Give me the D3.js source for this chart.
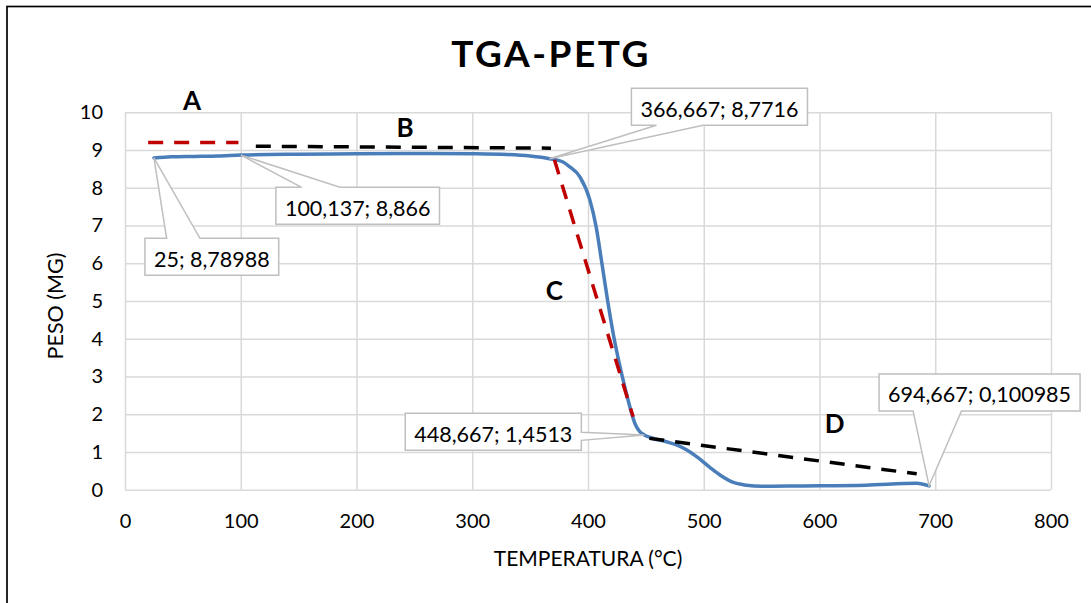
<!DOCTYPE html>
<html>
<head>
<meta charset="utf-8">
<script src="https://cdn.jsdelivr.net/npm/d3@7"></script>
<style>
  body { margin: 0; background: #fff; }
  svg { display: block; font-family: Lato, "Open Sans", sans-serif; }
</style>
</head>
<body>
<div class="graphContainer"></div>
<script>
// TGA curve (temperature in C, weight in mg)
const temps = [25, 40, 60, 80, 100.137, 150, 200, 250, 300, 330, 350, 366.667, 378, 384, 393, 401.6, 407, 412, 417, 422, 427, 432, 437, 441, 444.7, 448.667, 455, 467.6, 478, 485, 495, 505, 515, 525, 537, 550, 583, 640, 684, 694.667];
const weights = [8.79, 8.82, 8.83, 8.84, 8.866, 8.89, 8.90, 8.91, 8.90, 8.88, 8.84, 8.7716, 8.69, 8.56, 8.29, 7.68, 6.97, 6.0, 5.0, 4.1, 3.35, 2.7, 2.1, 1.72, 1.54, 1.4513, 1.37, 1.27, 1.17, 1.06, 0.85, 0.6, 0.37, 0.2, 0.12, 0.09, 0.10, 0.12, 0.17, 0.100985];

// tangent segments A..D
const segNames = ["A", "B", "C", "D"];
const segX = [[20, 98], [113, 368], [371, 439], [453, 684]];
const segY = [[9.2, 9.2], [9.1, 9.05], [8.74, 1.93], [1.36, 0.42]];
const segColors = ["#c00000", "#000000", "#c00000", "#000000"];
// where the letters sit (data coords)
const letterX = [58, 242, 371, 613];
const letterY = [10.06, 9.34, 5.03, 1.50];

// callout points
const calloutX = [25, 100.137, 366.667, 448.667, 694.667];
const calloutY = [8.78988, 8.866, 8.7716, 1.4513, 0.100985];

// ticks
const xTicks = [0, 100, 200, 300, 400, 500, 600, 700, 800];
const yTicks = [0, 1, 2, 3, 4, 5, 6, 7, 8, 9, 10];

//Set width, height and plot box
const w = 1091;
const h = 603;
const pLeft = 125, pRight = 1051, pTop = 112.3, pBottom = 489.7;

const svg = d3.select(".graphContainer").append("svg")
  .attr("width", w)
  .attr("height", h);

// outer frame (runs off the right/bottom edge like the screenshot)
svg.append("rect")
  .attr("x", 7).attr("y", 6.5)
  .attr("width", 1200).attr("height", 800)
  .attr("fill", "none")
  .attr("stroke", "#000")
  .attr("stroke-width", 1.7);

const xScale = d3.scaleLinear().domain([0, 800]).range([pLeft, pRight]);
const yScale = d3.scaleLinear().domain([0, 10]).range([pBottom, pTop]);

// grid
svg.append("g")
  .attr("transform", "translate(0," + pBottom + ")")
  .call(d3.axisBottom(xScale).tickValues(xTicks).tickSize(-(pBottom - pTop)).tickFormat(""))
  .call(g => g.select(".domain").remove())
  .selectAll("line").attr("stroke", "#d9d9d9").attr("stroke-width", 1.5);

svg.append("g")
  .attr("transform", "translate(" + pLeft + ",0)")
  .call(d3.axisLeft(yScale).tickValues(yTicks).tickSize(-(pRight - pLeft)).tickFormat(""))
  .call(g => g.select(".domain").remove())
  .selectAll("line").attr("stroke", "#d9d9d9").attr("stroke-width", 1.5);

// tick labels
svg.append("g")
  .attr("transform", "translate(0," + pBottom + ")")
  .call(d3.axisBottom(xScale).tickValues(xTicks).tickSize(0).tickPadding(24))
  .call(g => g.select(".domain").remove())
  .selectAll("text")
  .attr("fill", "#000")
  .style("font-size", "20px")
  .style("font-family", "Lato, sans-serif");

svg.append("g")
  .attr("transform", "translate(" + pLeft + ",0)")
  .call(d3.axisLeft(yScale).tickValues(yTicks).tickSize(0).tickPadding(22))
  .call(g => g.select(".domain").remove())
  .selectAll("text")
  .attr("fill", "#000")
  .style("font-size", "20px")
  .style("font-family", "Lato, sans-serif");

// title and axis titles
svg.append("text")
  .attr("x", 551).attr("y", 66.7)
  .attr("text-anchor", "middle")
  .style("font-size", "37px")
  .style("font-weight", "bold")
  .style("letter-spacing", "2.5px")
  .text("TGA-PETG");

svg.append("text")
  .attr("x", (pLeft + pRight) / 2).attr("y", 565.7)
  .attr("text-anchor", "middle")
  .style("font-size", "21px")
  .text("TEMPERATURA (°C)");

svg.append("text")
  .attr("transform", "translate(63," + ((pTop + pBottom) / 2 + 5) + ") rotate(-90)")
  .attr("text-anchor", "middle")
  .style("font-size", "21.5px")
  .text("PESO (MG)");

// curve
const line = d3.line()
  .x((d, i) => xScale(temps[i]))
  .y(d => yScale(d))
  .curve(d3.curveMonotoneX);

svg.append("path")
  .datum(weights)
  .attr("d", line)
  .attr("fill", "none")
  .attr("stroke", "#4a7ebb")
  .attr("stroke-width", 3.5)
  .attr("stroke-linejoin", "round")
  .attr("stroke-linecap", "round");

// dashed tangents
segNames.forEach((name, i) => {
  svg.append("line")
    .attr("x1", xScale(segX[i][0])).attr("y1", yScale(segY[i][0]))
    .attr("x2", xScale(segX[i][1])).attr("y2", yScale(segY[i][1]))
    .attr("stroke", segColors[i])
    .attr("stroke-width", 3.5)
    .attr("stroke-dasharray", "15,11");

  svg.append("text")
    .attr("x", xScale(letterX[i])).attr("y", yScale(letterY[i]))
    .attr("text-anchor", "middle")
    .style("font-size", "26px")
    .style("font-weight", "bold")
    .text(name);
});

// callouts: box offset from the tip, side the pointer leaves from, pointer base
const boxes = [
  {dx: -9, dy: 80.3, anchor: "left", side: "top", a: 21.7, b: 55},
  {dx: 35, dy: 32.2, anchor: "left", side: "top", a: 25.7, b: 64},
  {dx: 82, dy: -70.4, anchor: "left", side: "bottom", a: 25, b: 71.6},
  {dx: -63, dy: -21.6, anchor: "right", side: "right", a: 0.5, b: 8.5},
  {dx: -50, dy: -112, anchor: "left", side: "bottom", a: 34, b: 82.4}
];
const boxH = 37;

calloutX.forEach((cx, i) => {
  const tx = xScale(cx), ty = yScale(calloutY[i]);
  const label = String(cx).replace(".", ",") + "; " + String(calloutY[i]).replace(".", ",");
  const b = boxes[i];
  const g = svg.append("g");
  const path = g.append("path");
  const t = g.append("text")
    .style("font-size", "21.5px")
    .attr("text-anchor", "middle")
    .text(label);
  const bw = t.node().getComputedTextLength() + 18;
  const x0 = b.anchor === "left" ? tx + b.dx : tx + b.dx - bw;
  const x1 = x0 + bw;
  const y0 = ty + b.dy, y1 = y0 + boxH;
  let d;
  if (b.side === "top") {
    d = `M${x0},${y0}L${x0 + b.a},${y0}L${tx},${ty}L${x0 + b.b},${y0}L${x1},${y0}L${x1},${y1}L${x0},${y1}Z`;
  } else if (b.side === "bottom") {
    d = `M${x0},${y0}L${x1},${y0}L${x1},${y1}L${x0 + b.b},${y1}L${tx},${ty}L${x0 + b.a},${y1}L${x0},${y1}Z`;
  } else {
    d = `M${x0},${y0}L${x1},${y0}L${x1},${y0 + boxH / 2 + b.a}L${tx},${ty}L${x1},${y0 + boxH / 2 + b.b}L${x1},${y1}L${x0},${y1}Z`;
  }
  path.attr("d", d)
    .attr("fill", "#fff")
    .attr("stroke", "#bfbfbf")
    .attr("stroke-width", 1.5)
    .attr("stroke-linejoin", "miter");
  t.attr("x", (x0 + x1) / 2).attr("y", y0 + 28.4);
});
</script>
</body>
</html>
